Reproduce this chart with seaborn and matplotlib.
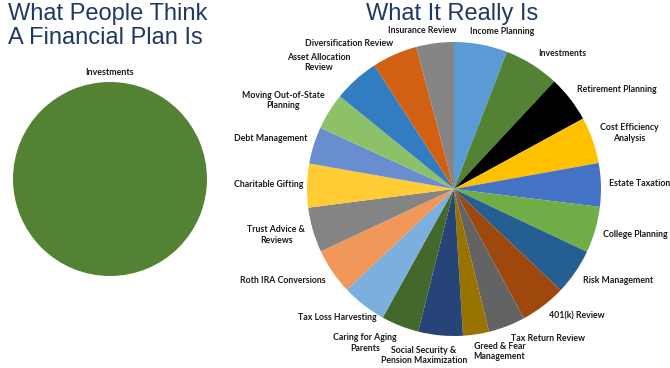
import numpy as np
import matplotlib
matplotlib.use("Agg")
import matplotlib.pyplot as plt
import seaborn as sns

sns.set_theme(style="white")
plt.rcParams['font.family'] = ['Lato', 'DejaVu Sans']

# left pie: the single thing people expect
think_labels = ["Investments"]
think_values = [1]
think_colors = ["#548235"]

# right pie: slice sizes read as degrees off the picture
real_labels = [
    "Income Planning", "Investments", "Retirement Planning",
    "Cost Efficiency\nAnalysis", "Estate Taxation", "College Planning",
    "Risk Management", "401(k) Review", "Tax Return Review",
    "Greed & Fear\nManagement", "Social Security &\nPension Maximization",
    "Caring for Aging\nParents", "Tax Loss Harvesting", "Roth IRA Conversions",
    "Trust Advice &\nReviews", "Charitable Gifting", "Debt Management",
    "Moving Out-of-State\nPlanning", "Asset Allocation\nReview",
    "Diversification Review", "Insurance Review",
]
real_values = [21.1, 21.9, 18.4, 18.4, 17.2, 18.3, 18.2, 18.1, 14.6, 10.3,
               17.6, 14.9, 17.8, 18.1, 17.8, 17.3, 14.6, 14.5, 18.1, 17.9, 14.9]
real_colors = [
    "#5B9BD5", "#548235", "#000000", "#FFC000", "#4472C4", "#70AD47",
    "#255E91", "#9E480E", "#636363", "#997300", "#264478", "#43682B",
    "#7CAFDD", "#F1975A", "#848484", "#FFCD33", "#698ED0", "#8CC168",
    "#327DC2", "#D26012", "#858585",
]

# label placement tweaks (clockwise shift in degrees, radial distance)
label_shift = [6.5, 6.5, 6.5, 1.7, 0, -2, -5.4, -6.5, -11, -7, 5, 8.5, 4.5,
               6, 1.7, 0, -2, -4.4, -5, -12, -4]
label_dist = [1.12, 1.18, 1.30, 1.25, 1.26, 1.27, 1.28, 1.20, 1.20, 1.15,
              1.15, 1.21, 1.18, 1.32, 1.25, 1.26, 1.29, 1.31, 1.26, 1.22, 1.10]

title_color = "#1F3864"
text_color = "#1a1a1a"

fig = plt.figure(figsize=(6.7, 3.68), dpi=100)
fig.patch.set_facecolor("white")

# left pie
ax1 = fig.add_axes([13 / 670, (368 - 276) / 368, 194 / 670, 194 / 368])
ax1.pie(think_values, colors=think_colors, startangle=270, counterclock=False,
        wedgeprops=dict(linewidth=0))
ax1.text(0, 1.1, think_labels[0], ha="center", va="center", fontsize=6.4,
         fontweight="bold", color=text_color)
ax1.set_xlim(-1, 1)
ax1.set_ylim(-1, 1)
ax1.set_aspect("equal")
ax1.axis("off")

# right pie
ax2 = fig.add_axes([307 / 670, (368 - 336) / 368, 294 / 670, 294 / 368])
wedges, texts = ax2.pie(real_values, labels=real_labels, colors=real_colors,
                        startangle=90, counterclock=False,
                        wedgeprops=dict(linewidth=0),
                        textprops=dict(fontsize=6.3, fontweight="bold",
                                       color=text_color, ha="center",
                                       va="center"))
for w, t, sh, d in zip(wedges, texts, label_shift, label_dist):
    mid = np.deg2rad((w.theta1 + w.theta2) / 2 - sh)
    t.set_position((d * np.cos(mid), d * np.sin(mid)))
    t.set_ha("center")
    t.set_va("center")
    t.set_multialignment("center")
ax2.set_xlim(-1, 1)
ax2.set_ylim(-1, 1)
ax2.set_aspect("equal")
ax2.axis("off")

fig.text(8 / 670, 1 - 3 / 368, "What People Think\nA Financial Plan Is",
         ha="left", va="top", fontsize=17, color=title_color,
         family="Liberation Sans", linespacing=1.12)
fig.text(452 / 670, 1 - 3 / 368, "What It Really Is", ha="center", va="top",
         fontsize=17, color=title_color, family="Liberation Sans")

fig.savefig("out.png", dpi=100, facecolor="white")
